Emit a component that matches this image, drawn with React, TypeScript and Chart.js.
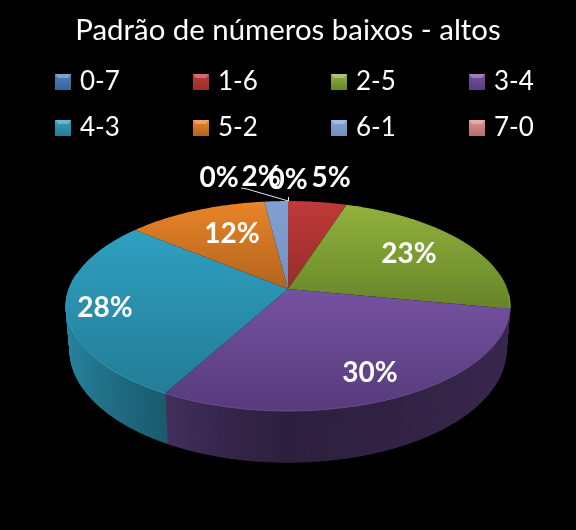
import React, { useEffect, useRef } from 'react';
import { Chart, registerables } from 'chart.js';

Chart.register(...registerables);

const categories = ['0-7', '1-6', '2-5', '3-4', '4-3', '5-2', '6-1', '7-0'];
const percents = [0, 5, 23, 30, 28, 12, 2, 0];

// top and bottom colour of each slice's top face
const topColors = ['#4f81bd', '#c03a38', '#90b23d', '#7552a1', '#2fa0c0', '#e98428', '#83a0d3', '#e08f8d'];
const lowColors = ['#3a6396', '#962e2b', '#668428', '#573b7c', '#237c96', '#b2641e', '#7390bd', '#b06f6d'];

// where each percent label sits (centre of the text)
const labelSpots = [
  [219, 178],
  [331, 178],
  [409, 254],
  [370, 373],
  [105, 308],
  [232, 234],
  [261, 177],
  [288, 180],
];

// perspective of the pie disc
const CX = 288;
const CY = 289;
const RX = 219;
const RY = 102.2;
const TILT = 0.162;
const DEPTH = 43;
const BOTTOM_SHRINK = 0.982;
const FONT = 'Lato, Carlito, "Open Sans", sans-serif';

function project(angle: number, low = false) {
  const x = Math.cos(angle);
  const y = Math.sin(angle);
  const w = 1 - TILT * y;
  const k = low ? BOTTOM_SHRINK : 1;
  return {
    x: CX + (RX * x * k) / w,
    y: CY + (RY * y) / w + (low ? DEPTH / w : 0),
  };
}

function shade(hex: string, f: number) {
  const n = parseInt(hex.slice(1), 16);
  const r = Math.round(((n >> 16) & 255) * f);
  const g = Math.round(((n >> 8) & 255) * f);
  const b = Math.round((n & 255) * f);
  return `rgb(${r},${g},${b})`;
}

// wall gets lighter towards the left side, darkest around the front and right
function wallFactor(x: number) {
  if (x < 0) return 0.4 + 0.42 * Math.pow(-x, 1.5);
  return 0.38 + 0.1 * x;
}

const pie3d = {
  id: 'pie3d',
  beforeDatasetDraw(chart: Chart) {
    const ctx = chart.ctx;
    const arcs = chart.getDatasetMeta(0).data as any[];
    const step = Math.PI / 360;

    // side wall of each slice, only the part facing the viewer.
    // thin quads so the wall keeps its outline where the rims cross on the sides
    arcs.forEach((arc, i) => {
      const from = Math.max(arc.startAngle, -0.15);
      const to = Math.min(arc.endAngle, Math.PI + 0.15);
      if (to - from < 0.0001) return;
      const wall = ctx.createLinearGradient(CX - 222, 0, CX + 222, 0);
      for (let s = 0; s <= 20; s++) {
        wall.addColorStop(s / 20, shade(topColors[i], wallFactor(s / 10 - 1)));
      }
      ctx.fillStyle = wall;
      ctx.strokeStyle = wall;
      ctx.lineWidth = 0.8;
      for (let a = from; a < to; a += step) {
        const b = Math.min(a + step, to);
        const p1 = project(a);
        const p2 = project(b);
        const p3 = project(b, true);
        const p4 = project(a, true);
        ctx.beginPath();
        ctx.moveTo(p1.x, p1.y);
        ctx.lineTo(p2.x, p2.y);
        ctx.lineTo(p3.x, p3.y);
        ctx.lineTo(p4.x, p4.y);
        ctx.closePath();
        ctx.fill();
        ctx.stroke();
      }
    });

    // top face
    arcs.forEach((arc, i) => {
      const { startAngle, endAngle } = arc;
      if (endAngle - startAngle < 0.0001) return;
      const pts = [];
      for (let a = startAngle; a < endAngle; a += step) pts.push(project(a));
      pts.push(project(endAngle));
      const ys = pts.map((p) => p.y).concat(CY);
      const grad = ctx.createLinearGradient(0, Math.min(...ys), 0, Math.max(...ys));
      grad.addColorStop(0, topColors[i]);
      grad.addColorStop(1, lowColors[i]);
      ctx.fillStyle = grad;
      ctx.beginPath();
      ctx.moveTo(CX, CY);
      pts.forEach((p) => ctx.lineTo(p.x, p.y));
      ctx.closePath();
      ctx.fill();

      // thin light edge along the front rim
      ctx.strokeStyle = shade(topColors[i], 1.05);
      ctx.lineWidth = 0.7;
      ctx.beginPath();
      let open = false;
      for (let a = startAngle; a < endAngle; a += step) {
        if (Math.sin(a) < 0.05) {
          open = false;
          continue;
        }
        const p = project(a);
        if (open) ctx.lineTo(p.x, p.y);
        else ctx.moveTo(p.x, p.y);
        open = true;
      }
      ctx.stroke();
    });
    return false;
  },
  afterDraw(chart: Chart) {
    const ctx = chart.ctx;
    ctx.save();

    // legend, 4 columns by 2 rows
    ctx.textBaseline = 'middle';
    ctx.textAlign = 'left';
    categories.forEach((name, i) => {
      const x = 55 + (i % 4) * 138;
      const y = 82 + Math.floor(i / 4) * 46;
      const s = 16;
      const g = ctx.createLinearGradient(0, y - s / 2, 0, y + s / 2);
      g.addColorStop(0, topColors[i]);
      g.addColorStop(1, lowColors[i]);
      ctx.fillStyle = g;
      ctx.fillRect(x, y - s / 2, s, s);
      // bevel on the top edge
      ctx.fillStyle = 'rgba(255,255,255,0.28)';
      ctx.beginPath();
      ctx.moveTo(x, y - s / 2);
      ctx.lineTo(x + s, y - s / 2);
      ctx.lineTo(x + s - 3, y - s / 2 + 4);
      ctx.lineTo(x + 3, y - s / 2 + 4);
      ctx.closePath();
      ctx.fill();
      ctx.fillStyle = '#ffffff';
      ctx.font = `26px ${FONT}`;
      ctx.fillText(name, x + 25, y);
    });

    // leader line of the small slice label
    ctx.strokeStyle = '#e8e8e8';
    ctx.lineWidth = 1;
    ctx.beginPath();
    ctx.moveTo(241, 188);
    ctx.lineTo(247, 189);
    ctx.lineTo(288.5, 201);
    ctx.lineTo(288.5, 197);
    ctx.stroke();

    // percent labels
    ctx.textAlign = 'center';
    ctx.fillStyle = '#ffffff';
    ctx.font = `bold 28px ${FONT}`;
    percents.forEach((v, i) => {
      ctx.fillText(`${v}%`, labelSpots[i][0], labelSpots[i][1]);
    });
    ctx.restore();
  },
};

const App: React.FC = () => {
  const chartRef = useRef<HTMLCanvasElement>(null);

  useEffect(() => {
    if (!chartRef.current) return;
    const chart = new Chart(chartRef.current, {
      type: 'pie',
      data: {
        labels: categories,
        datasets: [{ data: percents, backgroundColor: topColors, borderWidth: 0 }],
      },
      options: {
        responsive: false,
        animation: false,
        events: [],
        plugins: {
          legend: { display: false },
          tooltip: { enabled: false },
          title: {
            display: true,
            text: 'Padrão de números baixos - altos',
            color: '#ffffff',
            font: { family: FONT, size: 29.4, weight: 'normal' },
            padding: { top: 13, bottom: 10 },
          },
        },
      },
      plugins: [pie3d],
    } as any);

    return () => {
      chart.destroy();
    };
  }, []);

  return (
    <div style={{ position: 'fixed', inset: 0, background: '#000000' }}>
      <canvas ref={chartRef} width={576} height={530} style={{ display: 'block' }} />
    </div>
  );
};

export default App;
